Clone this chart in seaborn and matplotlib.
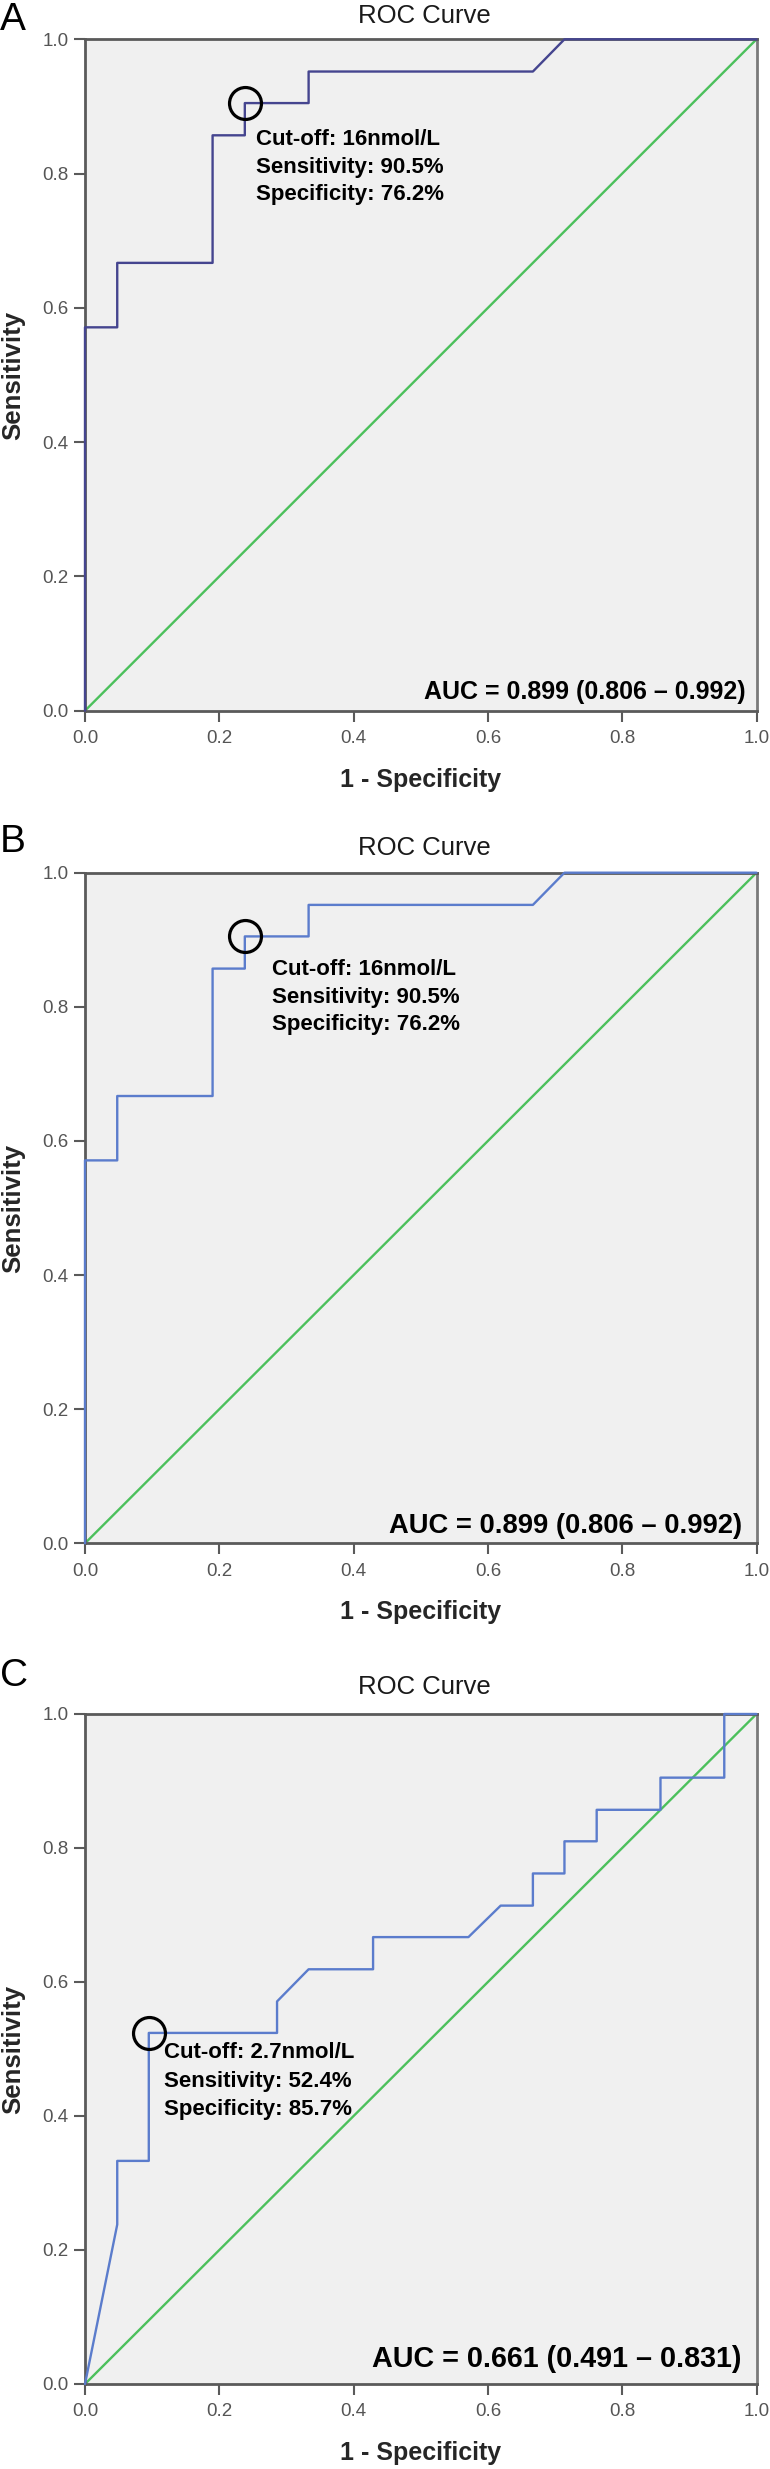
import matplotlib
matplotlib.use("Agg")
import matplotlib.pyplot as plt
import seaborn as sns

# ---------------- data ----------------
panel_labels = ["A", "B", "C"]
title_text = "ROC Curve"
x_label = "1 - Specificity"
y_label = "Sensitivity"
tick_values = [0.0, 0.2, 0.4, 0.6, 0.8, 1.0]
tick_labels = ["0.0", "0.2", "0.4", "0.6", "0.8", "1.0"]

roc_a_fpr = [0.0, 0.0, 0.048, 0.048, 0.190, 0.190, 0.238, 0.238, 0.333, 0.333, 0.667, 0.714, 1.0]
roc_a_tpr = [0.0, 0.571, 0.571, 0.667, 0.667, 0.857, 0.857, 0.905, 0.905, 0.952, 0.952, 1.0, 1.0]

roc_b_fpr = [0.0, 0.0, 0.048, 0.048, 0.190, 0.190, 0.238, 0.238, 0.333, 0.333, 0.667, 0.714, 1.0]
roc_b_tpr = [0.0, 0.571, 0.571, 0.667, 0.667, 0.857, 0.857, 0.905, 0.905, 0.952, 0.952, 1.0, 1.0]

roc_c_fpr = [0.0, 0.048, 0.048, 0.095, 0.095, 0.286, 0.286, 0.333, 0.429, 0.429, 0.571, 0.619,
             0.667, 0.667, 0.714, 0.714, 0.762, 0.762, 0.857, 0.857, 0.952, 0.952, 1.0]
roc_c_tpr = [0.0, 0.238, 0.333, 0.333, 0.524, 0.524, 0.571, 0.619, 0.619, 0.667, 0.667, 0.714,
             0.714, 0.762, 0.762, 0.810, 0.810, 0.857, 0.857, 0.905, 0.905, 1.0, 1.0]

ref_x = [0.0, 1.0]
ref_y = [0.0, 1.0]

cutoff_fpr = [0.238, 0.238, 0.095]
cutoff_tpr = [0.905, 0.905, 0.524]
cutoff_texts = [
    ["Cut-off: 16nmol/L", "Sensitivity: 90.5%", "Specificity: 76.2%"],
    ["Cut-off: 16nmol/L", "Sensitivity: 90.5%", "Specificity: 76.2%"],
    ["Cut-off: 2.7nmol/L", "Sensitivity: 52.4%", "Specificity: 85.7%"],
]
auc_texts = [
    "AUC = 0.899 (0.806 \u2013 0.992)",
    "AUC = 0.899 (0.806 \u2013 0.992)",
    "AUC = 0.661 (0.491 \u2013 0.831)",
]

# ---------------- style ----------------
sns.set_style("white")
plt.rcParams["font.family"] = ["Liberation Sans", "DejaVu Sans"]

W, H = 770, 2469
fig = plt.figure(figsize=(W / 100, H / 100), dpi=100)

# axes boxes in pixels: (top, bottom)
ax_left_px, ax_right_px = 85, 756.5
ax_boxes = [(39.3, 710.7), (872.7, 1543.3), (1714.0, 2384.0)]
title_base = [22.7, 855.0, 1694.0]
label_base = [30.0, 851.7, 1686.0]

curve_colors = ["#45458f", "#5b7ccc", "#5b7ccc"]
green = "#4cc05c"
spine_col = "#5a5a5a"

text_x = [0.255, 0.278, 0.117]
text_y0 = [0.842, 0.847, 0.486]
text_dy = [0.041, 0.041, 0.042]
auc_right = [0.984, 0.978, 0.978]
auc_base = [0.017, 0.015, 0.025]
auc_size = [18, 19.7, 20.7]

fprs = [roc_a_fpr, roc_b_fpr, roc_c_fpr]
tprs = [roc_a_tpr, roc_b_tpr, roc_c_tpr]

for i in range(3):
    top, bot = ax_boxes[i]
    ax = fig.add_axes([ax_left_px / W, 1 - bot / H, (ax_right_px - ax_left_px) / W, (bot - top) / H])
    ax.set_facecolor("#f0f0f0")

    sns.lineplot(x=ref_x, y=ref_y, ax=ax, color=green, linewidth=1.7,
                 estimator=None, sort=False, legend=False, zorder=2)
    sns.lineplot(x=fprs[i], y=tprs[i], ax=ax, color=curve_colors[i], linewidth=1.7,
                 estimator=None, sort=False, legend=False, zorder=3, clip_on=False)
    ax.plot([cutoff_fpr[i]], [cutoff_tpr[i]], marker="o", markersize=23,
            markerfacecolor="none", markeredgecolor="black", markeredgewidth=2.3,
            linestyle="none", zorder=4, clip_on=False)

    ax.set_xlim(0, 1)
    ax.set_ylim(0, 1)
    ax.set_xticks(tick_values)
    ax.set_xticklabels(tick_labels)
    ax.set_yticks(tick_values)
    ax.set_yticklabels(tick_labels)
    ax.tick_params(axis="both", direction="out", length=8, width=1.5, color=spine_col,
                   labelsize=13.5, labelcolor="#555555", left=True, bottom=True)
    ax.tick_params(axis="x", pad=6)
    ax.tick_params(axis="y", pad=4)
    for s in ax.spines.values():
        s.set_visible(True)
        s.set_color(spine_col)
        s.set_linewidth(2.0)
    ax.spines["right"].set_color("#7a7a7a")

    ax.set_xlabel(x_label, fontsize=18, fontweight="bold", va="baseline")
    ax.xaxis.set_label_coords(0.5, -76 / (bot - top))
    ax.set_ylabel(y_label, fontsize=18.5, fontweight="bold")
    ax.yaxis.set_label_coords(-0.0886, 0.5)

    for k, line in enumerate(cutoff_texts[i]):
        ax.text(text_x[i], text_y0[i] - k * text_dy[i], line, fontsize=16,
                fontweight="bold", ha="left", va="baseline", color="black", zorder=5)

    ax.text(auc_right[i], auc_base[i], auc_texts[i], transform=ax.transAxes,
            fontsize=auc_size[i], fontweight="bold", ha="right", va="baseline", color="black")

    fig.text(424 / W, 1 - title_base[i] / H, title_text, fontsize=18.5, ha="center",
             va="baseline", color="#1a1a1a", fontweight="medium")
    fig.text(0.0, 1 - label_base[i] / H, panel_labels[i], fontsize=28, ha="left",
             va="baseline", color="black")

fig.savefig("out.png", dpi=100)
